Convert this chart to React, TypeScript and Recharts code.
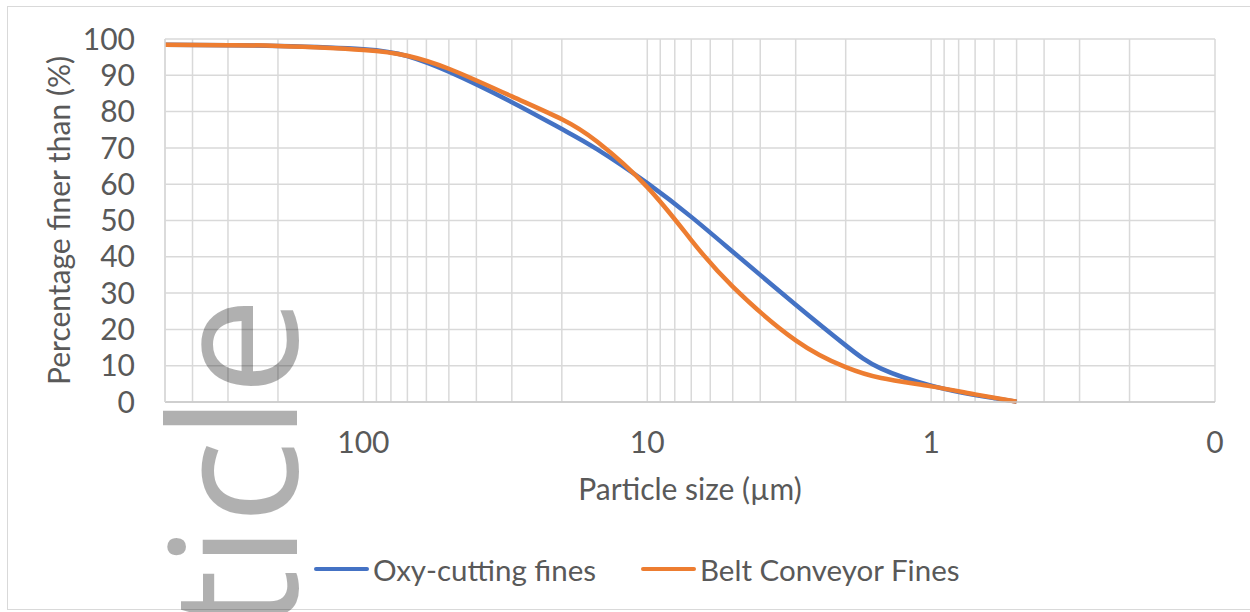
import { LineChart, Line, XAxis, YAxis, CartesianGrid } from 'recharts'

// particle size (µm) and cumulative % finer
const sizes = [500, 300, 200, 100, 70, 50, 30, 20, 15, 10, 7, 5, 3, 2, 1.5, 1, 0.7, 0.5]
const oxyCutting = [98.4, 98.3, 98.1, 97.2, 95.3, 91.0, 82.6, 75.2, 69.6, 60.3, 51.0, 41.4, 26.8, 15.6, 9.2, 4.5, 1.9, 0.1]
const beltConveyor = [98.4, 98.3, 98.1, 97.0, 95.4, 91.8, 84.2, 77.9, 71.7, 59.2, 44.6, 31.8, 17.0, 9.6, 6.6, 4.3, 2.1, 0.1]

const seriesNames = ['Oxy-cutting fines', 'Belt Conveyor Fines']
const seriesColors = ['#4472C4', '#ED7D31']

// log gridlines (every minor step), only decades get a label
const gridTicks = [400, 300, 200, 100, 90, 80, 70, 60, 50, 40, 30, 20, 10, 9, 8, 7, 6, 5, 4, 3, 2, 1, 0.9, 0.8, 0.7, 0.6, 0.5, 0.4, 0.3, 0.2, 0.1]
const labelTicks = [100, 10, 1, 0.1]
const tickLabels = ['100', '10', '1', '0']
const yTicks = [0, 10, 20, 30, 40, 50, 60, 70, 80, 90, 100]

const data = sizes.map((size, i) => ({ size, oxy: oxyCutting[i], belt: beltConveyor[i] }))

const font = 'Lato, "Open Sans", sans-serif'
const textColor = '#595959'
const tickStyle = { fill: textColor, fontSize: 30, fontFamily: font }

export default function App() {
  return (
    <div style={{ position: 'absolute', left: 0, top: 0, width: 1250, height: 612, overflow: 'hidden', background: '#fff' }}>
      <div style={{ position: 'absolute', left: 7, top: 6, width: 1270, height: 602, border: '1.5px solid #d9d9d9' }} />
      <div style={{ position: 'absolute', left: 0, top: 0 }}>
        <LineChart width={1250} height={612} data={data} margin={{ top: 39, right: 35, bottom: 150, left: 0 }}>
          <CartesianGrid stroke="#d9d9d9" strokeWidth={1.5} />
          <XAxis
            dataKey="size"
            type="number"
            scale="log"
            domain={[0.1, 500]}
            reversed
            allowDataOverflow
            ticks={gridTicks}
            interval={0}
            tickFormatter={(v: number) => {
              const i = labelTicks.indexOf(v)
              return i >= 0 ? tickLabels[i] : ''
            }}
            height={60}
            tickLine={false}
            tickSize={0}
            tickMargin={30}
            tick={tickStyle}
            axisLine={{ stroke: '#c8c8c8', strokeWidth: 1.5 }}
            label={{ value: 'Particle size (µm)', position: 'bottom', offset: 17, fill: textColor, fontSize: 30, fontFamily: font }}
          />
          <YAxis
            type="number"
            domain={[0, 100]}
            ticks={yTicks}
            interval={0}
            width={165}
            tickLine={false}
            tickSize={0}
            tickMargin={30}
            tick={tickStyle}
            axisLine={{ stroke: '#d9d9d9', strokeWidth: 1.5 }}
            label={{
              value: 'Percentage finer than (%)',
              angle: -90,
              position: 'insideLeft',
              offset: 59,
              fill: textColor,
              fontSize: 30,
              fontFamily: font,
              style: { textAnchor: 'middle' },
            }}
          />
          <Line type="natural" dataKey="oxy" name={seriesNames[0]} stroke={seriesColors[0]} strokeWidth={4.5} dot={false} isAnimationActive={false} />
          <Line type="natural" dataKey="belt" name={seriesNames[1]} stroke={seriesColors[1]} strokeWidth={4.5} dot={false} isAnimationActive={false} />
        </LineChart>
      </div>
      {/* legend */}
      {seriesNames.map((name, i) => (
        <div key={name} style={{ position: 'absolute', left: i === 0 ? 314 : 641, top: 549, height: 40, display: 'flex', alignItems: 'center', fontFamily: font, fontSize: 29.5, color: textColor, whiteSpace: 'nowrap' }}>
          <span style={{ display: 'inline-block', width: 55, height: 4.5, borderRadius: 3, background: seriesColors[i], marginRight: 4 }} />
          {name}
        </div>
      ))}
      {/* watermark fragment over the chart */}
      <svg width={1250} height={612} style={{ position: 'absolute', left: 0, top: 0, pointerEvents: 'none' }}>
        <text
          transform="translate(297, 297) rotate(-90)"
          textAnchor="end"
          fontFamily='"Open Sans", sans-serif'
          fontSize={176}
          fill="#000"
          fillOpacity={0.31}
        >
          ticle
        </text>
      </svg>
    </div>
  )
}
